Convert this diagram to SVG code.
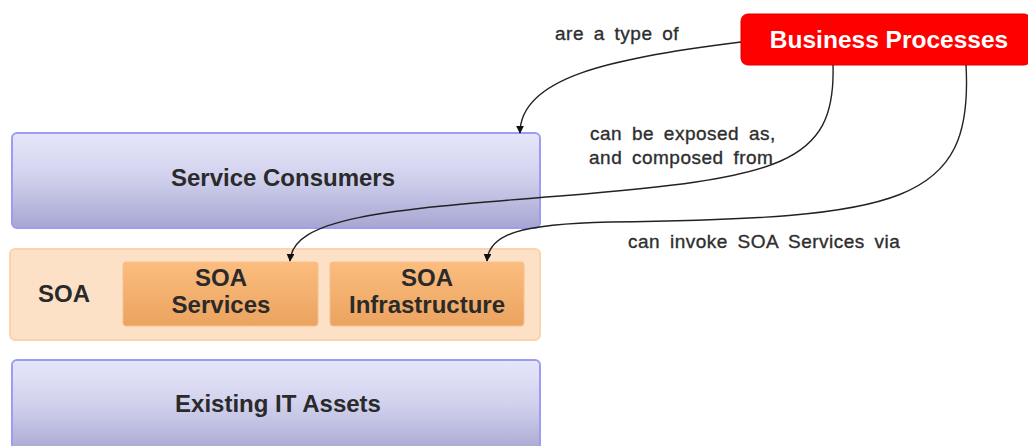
<svg xmlns="http://www.w3.org/2000/svg" width="1028" height="446" viewBox="0 0 1028 446">
  <style>
    .layer { stroke: #9c9cf2; stroke-width: 2; fill: url(#blueGrad); }
    .layer-label { font-family: "Liberation Sans", Arial, sans-serif; font-weight: bold; font-size: 24px; fill: #2a2a2a; text-anchor: middle; }
    .soa-box { fill: url(#orangeGrad); stroke: #f6c08e; stroke-width: 1; }
    .edge { fill: none; stroke: #222; stroke-width: 1.4; marker-end: url(#arrow); }
    .edge-label { font-family: "Liberation Sans", Arial, sans-serif; font-size: 19px; letter-spacing: 0.5px; word-spacing: 4px; fill: #2e2e2e; stroke: #2e2e2e; stroke-width: 0.35; }
  </style>
  <defs>
    <linearGradient id="blueGrad" x1="0" y1="0" x2="0" y2="1">
      <stop offset="0" stop-color="#e6e6fa"/>
      <stop offset="0.45" stop-color="#d2d2ee"/>
      <stop offset="1" stop-color="#a6a6d2"/>
    </linearGradient>
    <linearGradient id="orangeGrad" x1="0" y1="0" x2="0" y2="1">
      <stop offset="0" stop-color="#fbbd7f"/>
      <stop offset="1" stop-color="#eba35f"/>
    </linearGradient>
    <marker id="arrow" viewBox="0 0 10 10" refX="9" refY="5" markerWidth="8" markerHeight="8" orient="auto" markerUnits="userSpaceOnUse">
      <path d="M0,0 L10,5 L0,10 z" fill="#111"/>
    </marker>
  </defs>

  <rect width="1028" height="446" fill="#ffffff"/>

  <g id="service-consumers">
    <rect class="layer" x="12" y="133" width="528" height="95" rx="5"/>
    <text class="layer-label" x="283" y="186">Service Consumers</text>
  </g>

  <g id="soa">
    <rect x="10" y="249" width="530" height="91" rx="5" fill="#fde1c6" stroke="#fbd3ac" stroke-width="2"/>
    <text class="layer-label" x="64" y="302">SOA</text>
  </g>

  <g id="soa-services">
    <rect class="soa-box" x="123" y="262" width="195" height="64" rx="3"/>
    <text class="layer-label" x="221" y="286">SOA</text>
    <text class="layer-label" x="221" y="313">Services</text>
  </g>

  <g id="soa-infrastructure">
    <rect class="soa-box" x="330" y="262" width="194" height="64" rx="3"/>
    <text class="layer-label" x="427" y="286">SOA</text>
    <text class="layer-label" x="427" y="313">Infrastructure</text>
  </g>

  <g id="existing-it-assets">
    <rect class="layer" x="12" y="360" width="528" height="95" rx="5"/>
    <text class="layer-label" x="278" y="412">Existing IT Assets</text>
  </g>

  <g id="business-processes">
    <rect x="741" y="14" width="290" height="51" rx="7" fill="#ff0000" stroke="#e00000" stroke-width="1"/>
    <text x="889" y="48" font-family="Liberation Sans, Arial, sans-serif" font-weight="bold" font-size="24.5px" fill="#ffffff" text-anchor="middle">Business Processes</text>
  </g>

  <g id="connectors">
    <path class="edge" d="M741,42 C610,58 520,78 520,133"/>
    <path class="edge" d="M833,65 C836,165 780,178 560,196 C380,210 293,218 290,261"/>
    <path class="edge" d="M966,65 C974,205 900,218 610,222 C520,224 489,234 487,261"/>
    <text class="edge-label" x="555" y="40">are a type of</text>
    <text class="edge-label" x="590" y="140">can be exposed as,</text>
    <text class="edge-label" x="589" y="164">and composed from</text>
    <text class="edge-label" x="628" y="248">can invoke SOA Services via</text>
  </g>
</svg>
